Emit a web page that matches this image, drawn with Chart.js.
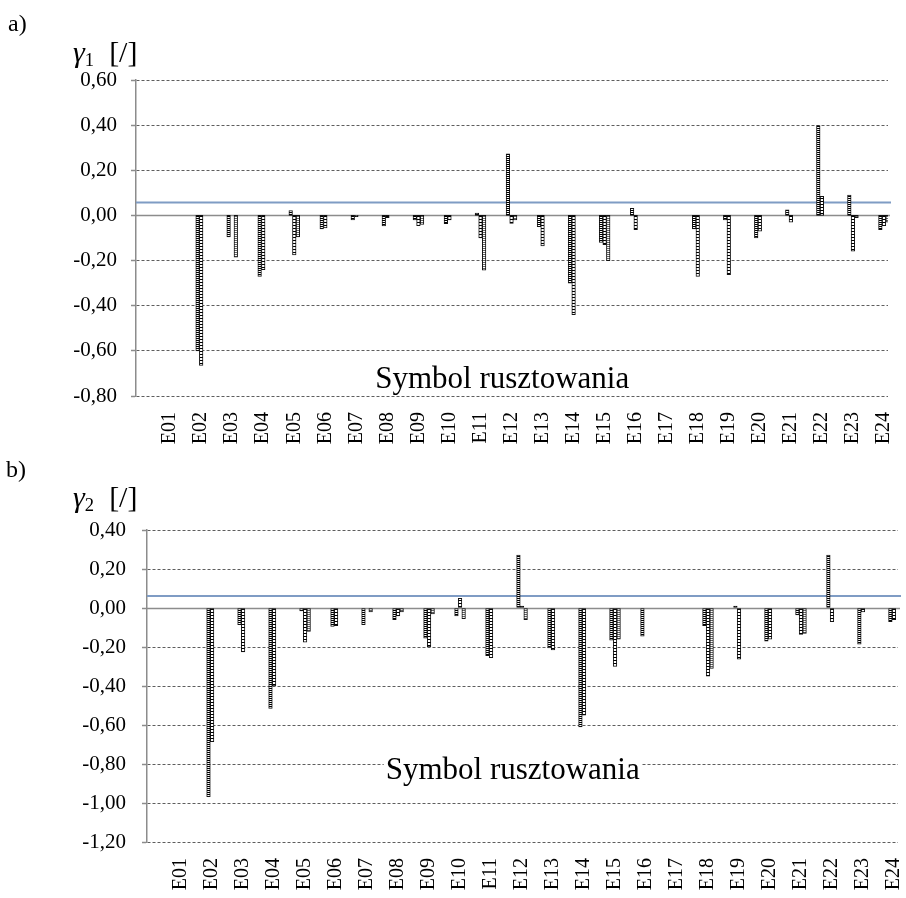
<!DOCTYPE html>
<html>
<head>
<meta charset="utf-8">
<script src="https://cdn.jsdelivr.net/npm/chart.js@4.4.1/dist/chart.umd.min.js"></script>
<style>
  body { margin: 0; background: #fff; }
  #page { position: relative; width: 906px; height: 898px; overflow: hidden; font-family: "Liberation Serif", "Times New Roman", serif; color: #000; }
  .panel { position: absolute; left: 0; width: 906px; }
  #panelA { top: 0; height: 450px; }
  #panelB { top: 450px; height: 448px; }
  .tag { position: absolute; font-size: 24px; line-height: 1; }
  .unit { position: absolute; font-size: 30px; line-height: 1; white-space: pre; }
  .unit sub { font-size: 62%; vertical-align: baseline; position: relative; top: 0.22em; }
</style>
</head>
<body>
<div id="page">
  <div class="panel" id="panelA"><canvas id="chartA"></canvas></div>
  <div class="panel" id="panelB"><canvas id="chartB"></canvas></div>
  <div class="tag" style="left:8px; top:11px;">a)</div>
  <div class="unit" style="left:73px; top:37px;"><i>γ</i><sub>1</sub>  [/]</div>
  <div class="tag" style="left:6px; top:457px;">b)</div>
  <div class="unit" style="left:73px; top:482px;"><i>γ</i><sub>2</sub>  [/]</div>
</div>
<script>
const categories = ["E01", "E02", "E03", "E04", "E05", "E06", "E07", "E08", "E09", "E10", "E11", "E12",
                    "E13", "E14", "E15", "E16", "E17", "E18", "E19", "E20", "E21", "E22", "E23", "E24"];

// gamma 1, three measurement series per scaffold
const gamma1A = [null, -0.600, -0.095, -0.270, 0.022, -0.060, -0.020, -0.047, -0.020, -0.037, 0.010, 0.273,
                 -0.050, -0.300, -0.120, 0.032, null, -0.060, -0.020, -0.100, 0.025, 0.398, 0.090, -0.063];
const gamma1B = [null, -0.665, null, -0.240, -0.175, -0.055, -0.005, -0.010, -0.045, -0.020, -0.100, -0.035,
                 -0.135, -0.440, -0.130, -0.063, null, -0.270, -0.262, -0.070, -0.030, 0.085, -0.158, -0.045];
const gamma1C = [null, null, -0.185, null, -0.095, null, null, null, -0.040, null, -0.243, -0.020,
                 null, null, -0.200, null, null, null, null, null, null, null, -0.010, -0.030];
const gamma1Limit = 0.057;
const gamma1Axis = [-0.8, 0.6, 0.2];

// gamma 2
const gamma2A = [null, -0.968, -0.085, -0.515, -0.015, -0.095, -0.085, -0.060, -0.155, -0.040, -0.245, 0.272,
                 -0.205, -0.610, -0.165, -0.145, null, -0.090, 0.010, -0.170, -0.035, 0.272, -0.185, -0.070];
const gamma2B = [null, -0.686, -0.225, -0.400, -0.175, -0.090, null, -0.040, -0.200, 0.050, -0.255, 0.010,
                 -0.215, -0.550, -0.300, null, null, -0.350, -0.263, -0.160, -0.135, -0.070, -0.020, -0.060];
const gamma2C = [null, null, null, null, -0.120, null, -0.020, -0.020, -0.030, -0.055, null, -0.060,
                 null, null, -0.160, null, null, -0.310, null, null, -0.130, null, null, null];
const gamma2Limit = 0.062;
const gamma2Axis = [-1.2, 0.4, 0.2];

const serif = "Liberation Serif";

// small hatch fills for the bars
function stripes(ink, period) {
    const c = document.createElement("canvas");
    c.width = 2; c.height = period;
    const g = c.getContext("2d");
    g.fillStyle = "#fff"; g.fillRect(0, 0, 2, period);
    g.fillStyle = ink; g.fillRect(0, 0, 2, 1);
    return g.createPattern(c, "repeat");
}
const fills = [stripes("#000", 2), stripes("#000", 3), stripes("#666", 2)];

function fmt(v) {
    if (Math.abs(v) < 1e-9) v = 0;
    return v.toFixed(2).replace(".", ",");
}

// zero axis, limit line and the axis caption drawn inside the plot
const plotExtras = {
    id: "plotExtras",
    beforeDatasetsDraw(chart, args, opts) {
        const { ctx, chartArea: a, scales: { y } } = chart;
        ctx.save();
        const y0 = Math.round(y.getPixelForValue(0)) + 0.5;
        ctx.strokeStyle = "#8c8c8c";
        ctx.lineWidth = 1.5;
        ctx.beginPath(); ctx.moveTo(a.left, y0); ctx.lineTo(a.right + 2, y0); ctx.stroke();

        const yl = y.getPixelForValue(opts.limit);
        ctx.strokeStyle = "#7f9cc4";
        ctx.lineWidth = 2;
        ctx.beginPath(); ctx.moveTo(a.left, yl); ctx.lineTo(a.right + 3, yl); ctx.stroke();

        ctx.font = "31px " + serif;
        ctx.fillStyle = "#000";
        ctx.textAlign = "center";
        ctx.textBaseline = "alphabetic";
        const tx = a.left + a.width * 0.487;
        const ty = y.getPixelForValue(opts.captionAt);
        if (opts.clear) {
            const w = ctx.measureText(opts.caption).width;
            ctx.fillStyle = "#fff";
            ctx.fillRect(tx - w / 2 - 2, ty - 25, w + 4, 33);
            ctx.fillStyle = "#000";
        }
        ctx.fillText(opts.caption, tx, ty);
        ctx.restore();
    }
};

function makeChart(id, series, limit, axis, opts) {
    const datasets = series.map((vals, k) => ({
        data: categories.map((c, i) => ({ x: i, y: vals[i] })),
        backgroundColor: fills[k],
        borderColor: "#111",
        borderWidth: 1,
        borderSkipped: false,
        barThickness: 3.6
    }));
    return new Chart(document.getElementById(id), {
        type: "bar",
        data: { datasets },
        options: {
            responsive: true,
            maintainAspectRatio: false,
            animation: false,
            devicePixelRatio: 1,
            layout: { padding: { top: 80, right: opts.right, left: 0, bottom: 0 } },
            plugins: {
                legend: { display: false },
                tooltip: { enabled: false },
                plotExtras: { limit, caption: "Symbol rusztowania", captionAt: opts.captionAt, clear: opts.clear }
            },
            scales: {
                x: {
                    type: "linear",
                    offset: false,
                    bounds: "data",
                    min: -1.1,
                    max: 23.13,
                    grid: { display: false },
                    border: { display: false },
                    // one tick per scaffold symbol
                    afterBuildTicks: s => { s.ticks = categories.map((c, i) => ({ value: i })); },
                    ticks: {
                        autoSkip: false,
                        minRotation: 90,
                        maxRotation: 90,
                        padding: 8,
                        color: "#000",
                        font: { family: serif, size: 20 },
                        callback: v => categories[v] || ""
                    },
                    afterFit: s => { s.height = opts.xHeight; s.paddingLeft = 0; s.paddingRight = 0; }
                },
                y: {
                    min: axis[0],
                    max: axis[1],
                    grid: { color: "#5e5e5e", lineWidth: 1, tickLength: 5, tickColor: "#8c8c8c", tickWidth: 1.5 },
                    border: { display: true, color: "#8c8c8c", width: 1.5, dash: [3, 2] },
                    ticks: {
                        stepSize: axis[2],
                        padding: opts.yPad,
                        color: "#000",
                        font: { family: serif, size: 21 },
                        callback: v => fmt(v)
                    },
                    afterFit: s => { s.width = opts.yWidth; }
                }
            }
        },
        plugins: [plotExtras]
    });
}

makeChart("chartA", [gamma1A, gamma1B, gamma1C], gamma1Limit, gamma1Axis,
    { right: 18, xHeight: 54, yWidth: 136, yPad: 14, captionAt: -0.765, clear: false });
makeChart("chartB", [gamma2A, gamma2B, gamma2C], gamma2Limit, gamma2Axis,
    { right: 8, xHeight: 56, yWidth: 147, yPad: 16, captionAt: -0.877, clear: true });
</script>
</body>
</html>
